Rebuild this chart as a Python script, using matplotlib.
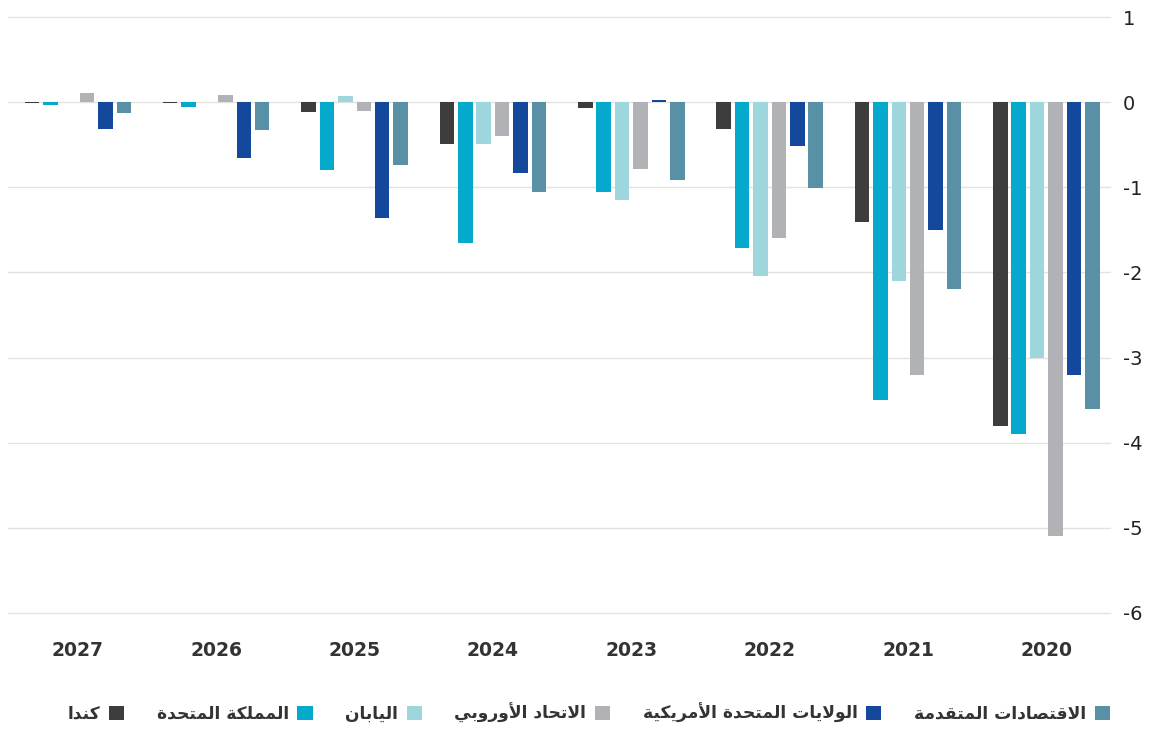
import matplotlib
matplotlib.use("Agg")
import matplotlib.pyplot as plt
from matplotlib.patches import Patch
import numpy as np

years = ["2027", "2026", "2025", "2024", "2023", "2022", "2021", "2020"]

series_names = [
    "كندا",
    "المملكة المتحدة",
    "اليابان",
    "الاتحاد الأوروبي",
    "الولايات المتحدة الأمريكية",
    "الاقتصادات المتقدمة",
]

canada = [-0.01, -0.01, -0.11, -0.49, -0.07, -0.31, -1.41, -3.80]
uk = [-0.03, -0.06, -0.80, -1.65, -1.06, -1.71, -3.50, -3.90]
japan = [0.0, 0.0, 0.07, -0.49, -1.15, -2.04, -2.10, -3.00]
eu = [0.11, 0.08, -0.10, -0.40, -0.79, -1.60, -3.20, -5.10]
usa = [-0.31, -0.66, -1.36, -0.83, 0.02, -0.51, -1.50, -3.20]
advanced = [-0.13, -0.33, -0.74, -1.06, -0.92, -1.01, -2.20, -3.60]

series_values = [canada, uk, japan, eu, usa, advanced]
colors = ["#3d3d3d", "#05a9cc", "#9dd6dd", "#b1b2b6", "#14489d", "#5890a6"]

y_ticks = [1, 0, -1, -2, -3, -4, -5, -6]

# --- minimal Arabic shaping: matplotlib draws code points as-is, so map
# letters to their contextual presentation forms and reverse for RTL ---
# letter -> (isolated form, number of forms)
FORMS = {
    "ا": (0xFE8D, 2), "أ": (0xFE83, 2), "ب": (0xFE8F, 4), "ة": (0xFE93, 2),
    "ت": (0xFE95, 4), "ح": (0xFEA1, 4), "د": (0xFEA9, 2), "ر": (0xFEAD, 2),
    "ص": (0xFEB9, 4), "ق": (0xFED5, 4), "ك": (0xFED9, 4), "ل": (0xFEDD, 4),
    "م": (0xFEE1, 4), "ن": (0xFEE5, 4), "و": (0xFEED, 2), "ي": (0xFEF1, 4),
    "\uFEFB": (0xFEFB, 2), "\uFEF7": (0xFEF7, 2),
}


def shape_arabic(text):
    text = text.replace("لا", "\uFEFB").replace("لأ", "\uFEF7")
    out = []
    for i, ch in enumerate(text):
        if ch not in FORMS:
            out.append(ch)
            continue
        base, n = FORMS[ch]
        prev = text[i - 1] if i > 0 else ""
        nxt = text[i + 1] if i + 1 < len(text) else ""
        joins_prev = prev in FORMS and FORMS[prev][1] == 4
        joins_next = n == 4 and nxt in FORMS
        if joins_prev and joins_next:
            code = base + 3
        elif joins_prev:
            code = base + 1
        elif joins_next:
            code = base + 2
        else:
            code = base
        out.append(chr(code))
    return "".join(reversed(out))


fig = plt.figure(figsize=(11.57, 7.33), dpi=100)
ax = fig.add_axes([8 / 1157, 1 - 613 / 733, 1102 / 1157, 596 / 733])

x = np.arange(len(years))
step = 0.133
width = 0.105
n = len(series_values)
for i, (vals, col) in enumerate(zip(series_values, colors)):
    offset = (i - (n - 1) / 2) * step
    ax.bar(x + offset, vals, width=width, color=col, zorder=3)

ax.set_xlim(-0.505, 7.46)
ax.set_ylim(-6, 1)
ax.set_yticks(y_ticks)
ax.set_yticklabels([str(t) for t in y_ticks], fontsize=14, color="#222222")
ax.yaxis.tick_right()
ax.tick_params(axis="y", length=0, pad=9)
ax.grid(axis="y", color="#e2e2e2", linewidth=1, zorder=0)
for gl in ax.get_ygridlines():
    gl.set_clip_on(False)
ax.set_xticks(x)
ax.set_xticklabels(years, fontsize=13.5, fontweight="bold", color="#333333")
ax.tick_params(axis="x", length=0, pad=20)
for s in ax.spines.values():
    s.set_visible(False)

# legend reads right to left
handles = [Patch(facecolor=c) for c in colors]
labels = [shape_arabic(t) for t in series_names]
leg = fig.legend(handles, labels, loc="center right",
                 bbox_to_anchor=(1110 / 1157, 1 - 713 / 733),
                 ncol=6, frameon=False, markerfirst=False, handlelength=0.9,
                 handleheight=0.9, handletextpad=0.5, columnspacing=1.9,
                 borderaxespad=0, borderpad=0,
                 prop={"family": "DejaVu Sans", "weight": "bold", "size": 12.3})
for t in leg.get_texts():
    t.set_color("#333333")

fig.savefig("out.png", dpi=100)
